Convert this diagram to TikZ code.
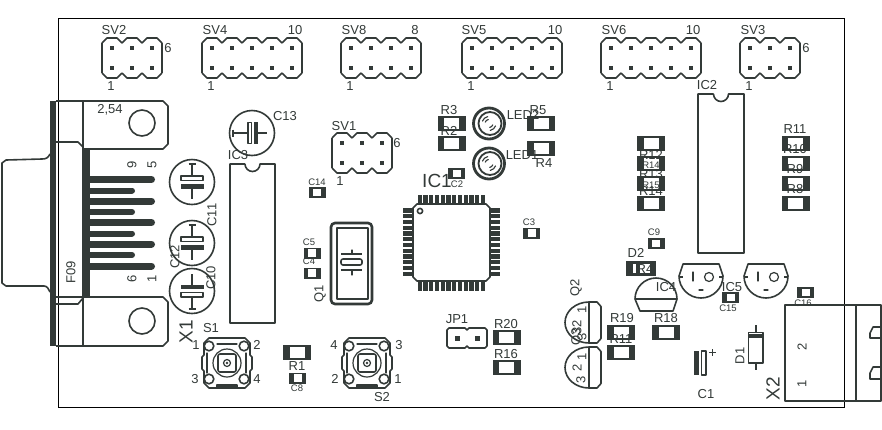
\documentclass[tikz,border=0pt]{standalone}
\usepackage{fontspec}
\setmainfont{Liberation Sans}
\definecolor{pcb}{HTML}{333A38}
\tikzset{
  ln/.style={draw=pcb,line width=1.2pt,line join=round,line cap=round},
  lnb/.style={draw=pcb,line width=1.6pt,line join=round},
  solid dark/.style={fill=pcb,draw=none},
  lab/.style={text=pcb,inner sep=0pt,font=\fontsize{13}{13}\selectfont},
  labs/.style={text=pcb,inner sep=0pt,font=\fontsize{9.5}{10}\selectfont},
  labb/.style={text=pcb,inner sep=0pt,font=\fontsize{19}{19}\selectfont},
}
% header: first pin x, top pin y, columns
\newcommand\Hdr[3]{%
  \pgfmathtruncatemacro\lastc{#3-1}
  \foreach \i in {0,...,\lastc}{
    \pgfmathsetmacro\cx{#1+20*\i}
    \draw[lnb] (\cx-10,#2-5)--(\cx-5,#2-10)--(\cx+5,#2-10)--(\cx+10,#2-5);
    \draw[lnb] (\cx-10,#2+25)--(\cx-5,#2+30)--(\cx+5,#2+30)--(\cx+10,#2+25);
    \fill[pcb] (\cx-2.2,#2-2.2) rectangle (\cx+2.2,#2+2.2);
    \fill[pcb] (\cx-2.2,#2+17.8) rectangle (\cx+2.2,#2+22.2);
  }
  \draw[lnb] (#1-10,#2-5)--(#1-10,#2+25);
  \pgfmathsetmacro\rx{#1+20*\lastc+10}
  \draw[lnb] (\rx,#2-5)--(\rx,#2+25);
}
\newcommand\Res[2]{%
  \fill[pcb] (#1-14,#2-7.5) rectangle (#1+14,#2+7.5);
  \fill[white] (#1-7.5,#2-5.5) rectangle (#1+7.5,#2+5.5);
}
\newcommand\SCap[2]{%
  \fill[pcb] (#1-8.5,#2-5.5) rectangle (#1+8.5,#2+5.5);
  \fill[white] (#1-4,#2-3.8) rectangle (#1+4,#2+3.8);
}
% electrolytic, vertical: cx, cy, dir (+1 plus on top, -1 plus at bottom)
\newcommand\ECap[3]{%
  \begin{scope}[shift={(#1,#2)},yscale=#3]
    \draw[lnb] (0,0) circle[radius=22.5pt];
    \draw[lnb] (0,-18)--(0,-6) (0,3)--(0,17);
    \draw[lnb] (-3.5,-18)--(3.5,-18);
    \draw[lnb] (-11,-6) rectangle (11,-1.5);
    \fill[pcb] (-11.5,2) rectangle (11.5,6.5);
  \end{scope}}
% switch
\newcommand\Sw[2]{%
  \begin{scope}[shift={(#1,#2)}]
    \draw[lnb] (-18,-25)--(18,-25)--(23,-20)--(23,-8)--(25,-6)--(25,6)--(23,8)--(23,20)--(18,25)--(-18,25)--(-23,20)--(-23,8)--(-25,6)--(-25,-6)--(-23,-8)--(-23,-20)--cycle;
    \foreach \a/\b in {-18/-17,17/-17,-18/16,17/16}{\draw[lnb] (\a,\b) circle[radius=4.8pt];}
    \draw[ln] (0,0) circle[radius=14pt];
    \draw[lnb,rounded corners=2pt] (-9,-9) rectangle (9,9);
    \draw[ln] (0,0) circle[radius=3.5pt];
    \fill[pcb] (0,0) circle[radius=1.4pt];
    \draw[ln] (-10,-19)--(10,-19);
    \draw[ln] (-10,22)--(10,22)--(10,24)--(-10,24)--cycle;
    \draw[ln] (-20,-10)--(-20,10);
    \draw[ln] (19,-10)--(19,10);
  \end{scope}}
\newcommand\Led[2]{%
  \begin{scope}[shift={(#1,#2)}]
    \draw[draw=pcb,line width=2.8pt] (0,0) circle[radius=15.5pt];
    \draw[draw=pcb,line width=1.8pt] (1,0) circle[radius=11.5pt];
    \foreach \r in {4,7}{
      \draw[ln,line width=1.1pt] (200:\r pt) arc[start angle=200,end angle=260,radius=\r pt];
      \draw[ln,line width=1.1pt] (20:\r pt) arc[start angle=20,end angle=80,radius=\r pt];
    }
  \end{scope}}
\newcommand\Reg[2]{%
  \begin{scope}[shift={(#1,#2)}]
    \draw[lnb] (-18,-12)--(18,-12)--(22,0) arc[start angle=0,end angle=180,radius=22pt]--cycle;
    \draw[lnb] (-22,1)--(-18,1) (22,1)--(18,1);
    \draw[ln] (-8,-4)--(-8,5);
    \draw[ln] (8,1) circle[radius=4.5pt];
    \draw[ln] (-2,14)--(2,14);
  \end{scope}}
\newcommand\Tr[2]{%
  \begin{scope}[shift={(#1,#2)}]
    \draw[lnb] (0,-20.5) arc[start angle=270,end angle=90,x radius=24pt,y radius=20.5pt];
    \draw[lnb] (0,-20.5)--(0,20.5);
    \draw[lnb] (0,-20.5)--(8,-20.5)--(12,-16)--(12,16)--(8,20.5)--(0,20.5);
  \end{scope}}
\newcommand\Dil[4]{% x1 x2 y1 y2 with notch
  \pgfmathsetmacro\mx{(#1+#2)/2}
  \draw[lnb] (\mx-7.5,#3)--(#1,#3)--(#1,#4)--(#2,#4)--(#2,#3)--(\mx+7.5,#3) arc[start angle=0,end angle=180,radius=7.5pt];
}
\begin{document}
\begin{tikzpicture}[x=1pt,y=1pt,yscale=-1]
\useasboundingbox (0,0) rectangle (882,429);
\fill[white] (0,0) rectangle (882,429);
% board
\draw[black,line width=1pt] (58,18) rectangle (844,407);

% headers
\Hdr{112}{48}{3}
\Hdr{212}{48}{5}
\Hdr{351}{48}{4}
\Hdr{472}{48}{5}
\Hdr{611}{48}{5}
\Hdr{750}{48}{3}
\Hdr{342}{143}{3}
\node[lab] at (114,30) {SV2};
\node[lab] at (168,48) {6};
\node[lab] at (111,86) {1};
\node[lab] at (215,30) {SV4};
\node[lab] at (295,30) {10};
\node[lab] at (211,86) {1};
\node[lab] at (354,30) {SV8};
\node[lab] at (415,30) {8};
\node[lab] at (350,86) {1};
\node[lab] at (474,30) {SV5};
\node[lab] at (555,30) {10};
\node[lab] at (471,86) {1};
\node[lab] at (614,30) {SV6};
\node[lab] at (693,30) {10};
\node[lab] at (610,86) {1};
\node[lab] at (753,30) {SV3};
\node[lab] at (806,48) {6};
\node[lab] at (749,86) {1};
\node[lab] at (344,126) {SV1};
\node[lab] at (397,143) {6};
\node[lab] at (340,181) {1};

% D-sub connector
\fill[pcb] (50,101) rectangle (56,346);
\draw[lnb] (56,101)--(163,101)--(168,106)--(168,144)--(163,149)--(83,149);
\draw[lnb] (83,101)--(83,149);
\draw[lnb] (56,297)--(163,297)--(168,302)--(168,341)--(163,346)--(56,346);
\draw[lnb] (83,297)--(83,346);
\draw[lnb] (142,123) circle[radius=13pt];
\draw[lnb] (142,321) circle[radius=13pt];
\draw[lnb] (56,142)--(78,142)--(83,147)--(83,298)--(78,304)--(56,304);
\draw[lnb] (50,154) .. controls (48,158) and (46,159) .. (42,159)--(6,160)--(2,163)--(2,283)--(6,286)--(44,286) .. controls (47,286) and (49,289) .. (50,292);
\fill[pcb] (83,148) rectangle (90,297);
\foreach \y in {179.5,201,222.5,244,266}{
  \draw[pcb,line width=7pt,line cap=round] (90,\y)--(151.5,\y);}
\foreach \y in {190.5,212,233.5,255}{
  \draw[pcb,line width=6pt,line cap=round] (90,\y)--(132,\y);}
\node[lab,rotate=90] at (132,165) {9};
\node[lab,rotate=90] at (152,165) {5};
\node[lab,rotate=90] at (132,279) {6};
\node[lab,rotate=90] at (152,279) {1};
\node[lab,rotate=90] at (71,272) {F09};
\node[lab] at (110,110) {2,54};
\node[labb,rotate=90] at (186,332) {X1};

% electrolytics
\ECap{192}{182}{1}
\ECap{192}{243}{1}
\ECap{192}{291}{-1}
\node[lab,rotate=90] at (212,215) {C11};
\node[lab,rotate=90] at (175,257) {C12};
\node[lab,rotate=90] at (211,278) {C10};
\begin{scope}[shift={(252,133)}]
  \draw[lnb] (0,0) circle[radius=22.5pt];
  \draw[lnb] (-19,-3.5)--(-19,3.5) (-19,0)--(-4,0) (5,0)--(15,0);
  \draw[lnb] (-4,-10.5) rectangle (-0.5,10.5);
  \fill[pcb] (1.5,-11) rectangle (6,11);
\end{scope}
\node[lab] at (285,116) {C13};

% IC3
\Dil{230}{275}{164}{323}
\node[lab] at (238,155) {IC3};

% switches
\Sw{227}{363}
\Sw{367}{363}
\node[lab] at (211,328) {S1};
\node[lab] at (196,345) {1};
\node[lab] at (257,345) {2};
\node[lab] at (195,379) {3};
\node[lab] at (257,379) {4};
\node[lab] at (382,397) {S2};
\node[lab] at (334,345) {4};
\node[lab] at (399,345) {3};
\node[lab] at (335,379) {2};
\node[lab] at (398,379) {1};

% crystal
\draw[draw=pcb,line width=2.6pt,rounded corners=4pt] (331,223) rectangle (372,304);
\draw[lnb] (337,228) rectangle (368,299);
\draw[ln] (352,250)--(352,254) (352,270)--(352,275);
\draw[lnb] (341,254)--(362,254) (341,270)--(362,270);
\draw[lnb,rounded corners=2pt] (341,259) rectangle (362,265);
\node[lab,rotate=90] at (320,294) {Q1};

% IC1
\foreach \i in {0,...,11}{
  \pgfmathsetmacro\p{419.8+5.75*\i}
  \fill[pcb] (\p-2.1,195) rectangle (\p+2.1,204);
  \fill[pcb] (\p-2.1,281) rectangle (\p+2.1,291);
  \pgfmathsetmacro\q{210.5+5.75*\i}
  \fill[pcb] (403,\q-2.1) rectangle (413,\q+2.1);
  \fill[pcb] (490,\q-2.1) rectangle (500,\q+2.1);
}
\draw[lnb,fill=white] (417,204)--(486,204)--(490,208)--(490,277)--(486,281)--(417,281)--(413,277)--(413,208)--cycle;
\draw[lnb] (420,211) circle[radius=2.6pt];
\node[labb] at (437,181) {IC1};

% JP1
\draw[lnb] (449,328)--(465,328)--(467,330)--(469,328)--(485,328)--(487,330)--(487,346)--(485,348)--(469,348)--(467,346)--(465,348)--(449,348)--(447,346)--(447,330)--cycle;
\fill[pcb] (454.5,335.5) rectangle (459.5,340.5);
\fill[pcb] (474.5,335.5) rectangle (479.5,340.5);
\node[lab] at (457,319) {JP1};

% LEDs
\Led{489}{123.5}
\Led{489}{163.5}

% resistors
\foreach \a/\b in {297/352,451.5/123.5,451.5/143.5,541/123.5,541/148.5,506.5/337.5,506.5/367.5,651/143.5,651/163.5,651/183.5,651/203.5,795.5/143.5,795.5/163.5,795.5/183.5,795.5/203.5,621/332.5,621/352.5,666/332.5}{
  \Res{\a}{\b}}
% small caps
\foreach \a/\b in {317/192.5,312/253,312/273,531.5/233,456.5/173.5,297.5/378,656/243.5,730.5/297.5,805.5/292.5}{
  \SCap{\a}{\b}}

\node[lab] at (449,110) {R3};
\node[lab] at (449,131) {R2};
\node[lab] at (538,110) {R5};
\node[lab] at (544,163) {R4};
\node[lab] at (523,115) {LED2};
\node[lab] at (522,155) {LED1};
\node[lab] at (506,324) {R20};
\node[lab] at (506,354) {R16};
\node[lab] at (297,366) {R1};
\node[labs] at (317,182) {C14};
\node[labs] at (309,242) {C5};
\node[labs] at (309,261) {C4};
\node[labs] at (529,222) {C3};
\node[labs] at (457,184) {C2};
\node[labs] at (297,388) {C8};
\node[labs] at (654,232) {C9};
\node[lab] at (651,155) {R12};
\node[labs] at (651,165) {R14};
\node[lab] at (651,174) {R13};
\node[labs] at (651,185) {R15};
\node[lab] at (651,191) {R14};
\node[lab] at (795,129) {R11};
\node[lab] at (795,149) {R10};
\node[lab] at (795,169) {R9};
\node[lab] at (795,189) {R8};
\node[lab] at (622,318) {R19};
\node[lab] at (666,318) {R18};
\node[lab] at (621,339) {R11};

% IC2
\Dil{698}{744}{94}{253}
\node[lab] at (707,85) {IC2};

% D2
\fill[pcb] (626,261) rectangle (656,276);
\fill[white] (632.5,264) rectangle (636,273);
\fill[white] (640,264) rectangle (650,273);
\node[lab,inner sep=0pt] at (645,269) {R4};
\node[lab] at (636,253) {D2};

% IC4
\draw[lnb] (635,299) arc[start angle=180,end angle=360,radius=21pt]--(673,311)--(640,311)--cycle;
\draw[lnb] (635,299)--(677,299);
\node[lab] at (666,287) {IC4};

% regulators
\Reg{701}{276}
\Reg{766}{276}
\node[lab] at (732,287) {IC5};
\node[labs] at (728,308) {C15};
\node[labs] at (803,303) {C16};

% transistors
\Tr{589}{322.5}
\Tr{589}{367.5}
\node[lab,rotate=90] at (576,288) {Q2};
\node[lab,rotate=90] at (582,310) {1};
\node[lab,rotate=90] at (577,327) {32};
\node[lab,rotate=90] at (577,337) {Q3};
\node[lab,rotate=90] at (582,337) {3};
\node[lab,rotate=90] at (582,357) {1};
\node[lab,rotate=90] at (577,368) {2};
\node[lab,rotate=90] at (581,380) {3};

% C1
\fill[pcb] (694,351) rectangle (699,375);
\draw[ln] (701.5,351) rectangle (706,375);
\draw[lnb] (709,352.5)--(716,352.5) (712.5,349)--(712.5,356);
\node[lab] at (706,394) {C1};

% D1
\draw[lnb] (748.5,332.5) rectangle (763,363);
\fill[pcb] (748.5,334) rectangle (763,338);
\draw[lnb] (756,325)--(756,332) (756,363)--(756,370);
\node[lab,rotate=90] at (740,356) {D1};

% X2
\draw[lnb] (785,305) rectangle (881,401);
\draw[lnb] (856,305)--(856,401);
\draw[lnb] (881,327)--(873,327)--(870,333)--(870,338)--(881,338);
\draw[lnb] (881,367)--(873,367)--(870,373)--(870,379)--(881,379);
\node[lab,rotate=90] at (802,347) {2};
\node[lab,rotate=90] at (802,384) {1};
\node[labb,rotate=90] at (773,389) {X2};
\end{tikzpicture}
\end{document}
